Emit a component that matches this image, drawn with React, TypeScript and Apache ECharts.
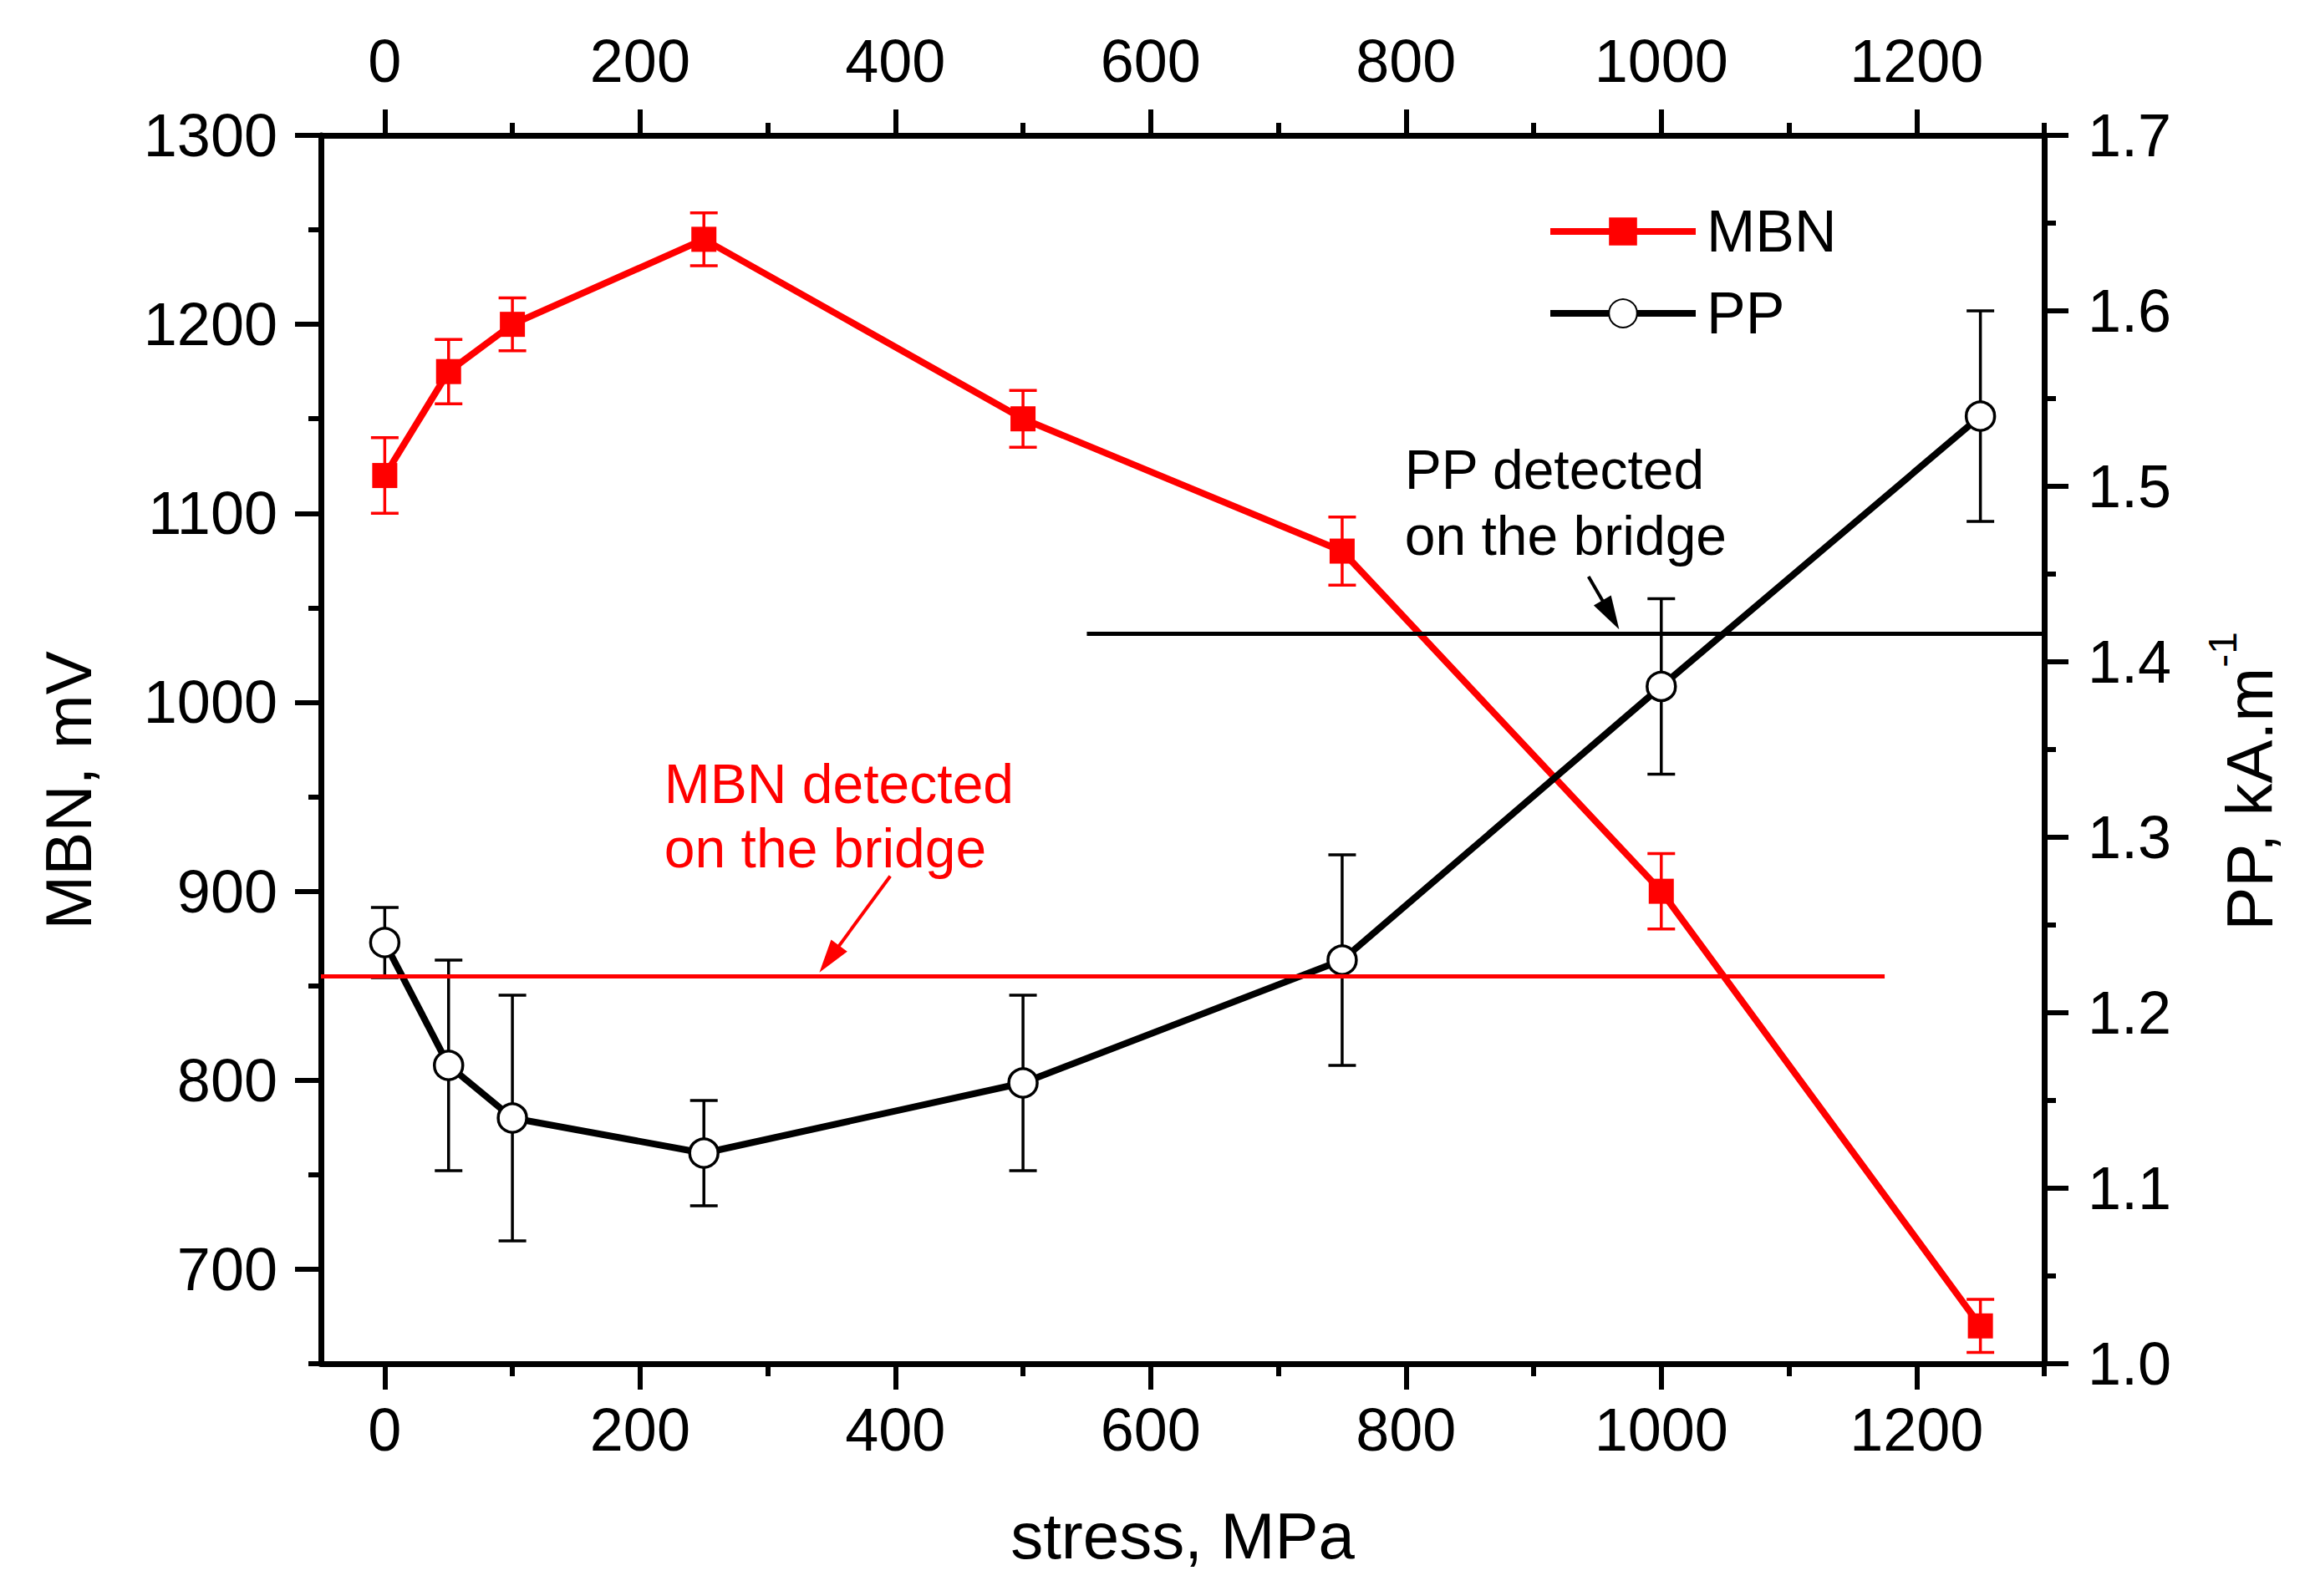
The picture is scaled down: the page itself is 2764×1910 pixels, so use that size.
import { useEffect, useRef } from 'react';
import * as echarts from 'echarts';

// ---------- data ----------
const stress = [0, 50, 100, 250, 500, 750, 1000, 1250];
const mbn = [1120, 1175, 1200, 1245, 1150, 1080, 900, 670];
const mbnErr = [20, 17, 14, 14, 15, 18, 20, 14];
const pp = [1.24, 1.17, 1.14, 1.12, 1.16, 1.23, 1.386, 1.54];
const ppErr = [0.02, 0.06, 0.07, 0.03, 0.05, 0.06, 0.05, 0.06];

// detection thresholds (stress range, level)
const mbnDetectX = [-50, 1175];
const mbnDetectLevel = 855;
const ppDetectX = [550, 1300];
const ppDetectLevel = 1.416;

// axis ticks
const xMajorTicks = [0, 200, 400, 600, 800, 1000, 1200];
const xMinorTicks = [100, 300, 500, 700, 900, 1100, 1300];
const leftMajorTicks = [700, 800, 900, 1000, 1100, 1200, 1300];
const leftMinorTicks = [650, 750, 850, 950, 1050, 1150, 1250];
const rightMajorTicks = [1.0, 1.1, 1.2, 1.3, 1.4, 1.5, 1.6, 1.7];
const rightMinorTicks = [1.05, 1.15, 1.25, 1.35, 1.45, 1.55, 1.65];

// annotations (data coordinates, left axis)
const annotationLabels = ['MBN detected', 'on the bridge', 'PP detected', 'on the bridge'];
const annotationX = [219, 219, 799, 799];
const annotationY = [957, 923, 1123, 1088];
const annotationColors = ['#ff0000', '#ff0000', '#000000', '#000000'];
// arrows: [fromX, fromY, toX, toY]
const mbnArrow = [[396, 908, 340.5, 857]];
const ppArrow = [[943, 1.4486, 967, 1.4185]];

const FONT = '"Liberation Sans", Arial, Helvetica, sans-serif';
const RED = '#ff0000';
const BLACK = '#000000';

function App() {
  const ref = useRef<HTMLDivElement>(null);

  useEffect(() => {
    if (!ref.current) return;
    const chart = echarts.init(ref.current, null, { renderer: 'svg' });

    const majorLen = 31;
    const minorLen = 15;
    const axisW = 7;
    const tickW = 6;

    const xAxisBase = (position: 'top' | 'bottom', ticks: number[], len: number, labels: boolean, lineShow: boolean, margin: number) => ({
      type: 'value',
      position,
      min: -50,
      max: 1300,
      axisLine: { show: lineShow, onZero: false, lineStyle: { color: BLACK, width: axisW } },
      axisTick: { show: true, inside: false, length: len, customValues: ticks, lineStyle: { color: BLACK, width: tickW } },
      axisLabel: {
        show: labels,
        customValues: ticks,
        margin,
        color: BLACK,
        fontSize: 72,
        fontFamily: FONT,
        formatter: (v: number) => String(Math.round(v)),
      },
      splitLine: { show: false },
      minorTick: { show: false },
    });

    const yAxisBase = (
      position: 'left' | 'right',
      min: number,
      max: number,
      ticks: number[],
      len: number,
      labels: boolean,
      lineShow: boolean,
      fmt: (v: number) => string,
    ) => ({
      type: 'value',
      position,
      min,
      max,
      axisLine: { show: lineShow, onZero: false, lineStyle: { color: BLACK, width: axisW } },
      axisTick: { show: true, inside: false, length: len, customValues: ticks, lineStyle: { color: BLACK, width: tickW } },
      axisLabel: {
        show: labels,
        customValues: ticks,
        margin: 52,
        color: BLACK,
        fontSize: 72,
        fontFamily: FONT,
        formatter: fmt,
      },
      splitLine: { show: false },
      minorTick: { show: false },
    });

    const intFmt = (v: number) => String(Math.round(v));
    const oneFmt = (v: number) => v.toFixed(1);

    const bottomMajor: any = xAxisBase('bottom', xMajorTicks, majorLen, true, true, 43);
    bottomMajor.name = 'stress, MPa';
    bottomMajor.nameLocation = 'middle';
    bottomMajor.nameGap = 167;
    bottomMajor.nameTextStyle = { color: BLACK, fontSize: 78, fontFamily: FONT };

    const errorBar = (color: string, width: number) => (params: any, api: any) => {
      const x = api.value(0);
      const lo = api.value(1);
      const hi = api.value(2);
      const top = api.coord([x, hi]);
      const bot = api.coord([x, lo]);
      const hw = 16.5;
      const style = { stroke: color, lineWidth: width };
      return {
        type: 'group',
        children: [
          { type: 'line', shape: { x1: top[0], y1: top[1], x2: bot[0], y2: bot[1] }, style },
          { type: 'line', shape: { x1: top[0] - hw, y1: top[1], x2: top[0] + hw, y2: top[1] }, style },
          { type: 'line', shape: { x1: bot[0] - hw, y1: bot[1], x2: bot[0] + hw, y2: bot[1] }, style },
        ],
      };
    };

    const arrow = (color: string) => (params: any, api: any) => {
      const p1 = api.coord([api.value(0), api.value(1)]);
      const p2 = api.coord([api.value(2), api.value(3)]);
      const dx = p2[0] - p1[0];
      const dy = p2[1] - p1[1];
      const len = Math.hypot(dx, dy) || 1;
      const ux = dx / len;
      const uy = dy / len;
      const hl = 40;
      const hw = 12;
      const bx = p2[0] - ux * hl;
      const by = p2[1] - uy * hl;
      return {
        type: 'group',
        children: [
          { type: 'line', shape: { x1: p1[0], y1: p1[1], x2: bx + ux * 4, y2: by + uy * 4 }, style: { stroke: color, lineWidth: 4 } },
          {
            type: 'polygon',
            shape: { points: [[p2[0], p2[1]], [bx - uy * hw, by + ux * hw], [bx + uy * hw, by - ux * hw]] },
            style: { fill: color },
          },
        ],
      };
    };

    const option: any = {
      animation: false,
      backgroundColor: '#ffffff',
      grid: { left: 384, right: 318, top: 162, bottom: 278, containLabel: false },
      legend: {
        data: ['MBN', 'PP'],
        orient: 'vertical',
        left: 1846,
        top: 237,
        itemWidth: 174,
        itemHeight: 42,
        itemGap: 28,
        lineStyle: { width: 8 },
        textStyle: { color: BLACK, fontSize: 70, fontFamily: FONT, padding: [0, 0, 0, 8] },
      },
      xAxis: [
        bottomMajor,
        xAxisBase('bottom', xMinorTicks, minorLen, false, false, 43),
        xAxisBase('top', xMajorTicks, majorLen, true, true, 53),
        xAxisBase('top', xMinorTicks, minorLen, false, false, 53),
      ],
      yAxis: [
        yAxisBase('left', 650, 1300, leftMajorTicks, majorLen, true, true, intFmt),
        yAxisBase('left', 650, 1300, leftMinorTicks, minorLen, false, false, intFmt),
        yAxisBase('right', 1.0, 1.7, rightMajorTicks, 29, true, true, oneFmt),
        yAxisBase('right', 1.0, 1.7, rightMinorTicks, 14, false, false, oneFmt),
      ],
      graphic: [
        {
          type: 'text',
          x: 82,
          y: 946,
          rotation: Math.PI / 2,
          style: { text: 'MBN, mV', fill: BLACK, fontSize: 78, fontFamily: FONT, align: 'center', verticalAlign: 'middle' },
        },
        {
          type: 'text',
          x: 2683,
          y: 935,
          rotation: Math.PI / 2,
          style: {
            text: '{a|PP, kA.m}{b|-1}',
            fill: BLACK,
            align: 'center',
            verticalAlign: 'middle',
            rich: {
              a: { fontSize: 78, fontFamily: FONT, fill: BLACK, verticalAlign: 'bottom', padding: [17, 0, 0, 0] },
              b: { fontSize: 48, fontFamily: FONT, fill: BLACK, verticalAlign: 'top' },
            },
          },
        },
      ],
      series: [
        {
          type: 'custom',
          name: 'MBN error',
          xAxisIndex: 0,
          yAxisIndex: 0,
          z: 2,
          renderItem: errorBar(RED, 3.5),
          data: stress.map((x, i) => [x, mbn[i] - mbnErr[i], mbn[i] + mbnErr[i]]),
        },
        {
          type: 'custom',
          name: 'PP error',
          xAxisIndex: 0,
          yAxisIndex: 2,
          z: 2,
          renderItem: errorBar(BLACK, 3.5),
          data: stress.map((x, i) => [x, pp[i] - ppErr[i], pp[i] + ppErr[i]]),
        },
        {
          type: 'line',
          name: 'MBN',
          xAxisIndex: 0,
          yAxisIndex: 0,
          z: 3,
          data: stress.map((x, i) => [x, mbn[i]]),
          symbol: 'rect',
          symbolSize: 30,
          itemStyle: { color: RED },
          lineStyle: { color: RED, width: 8 },
        },
        {
          type: 'line',
          name: 'PP',
          xAxisIndex: 0,
          yAxisIndex: 2,
          z: 3,
          data: stress.map((x, i) => [x, pp[i]]),
          symbol: 'circle',
          symbolSize: 34,
          itemStyle: { color: '#ffffff', borderColor: BLACK, borderWidth: 3.5 },
          lineStyle: { color: BLACK, width: 8 },
        },
        {
          type: 'line',
          name: 'MBN detected',
          xAxisIndex: 0,
          yAxisIndex: 0,
          z: 4,
          symbol: 'none',
          data: mbnDetectX.map((x) => [x, mbnDetectLevel]),
          lineStyle: { color: RED, width: 5 },
          itemStyle: { color: RED },
        },
        {
          type: 'line',
          name: 'PP detected',
          xAxisIndex: 0,
          yAxisIndex: 2,
          z: 4,
          symbol: 'none',
          data: ppDetectX.map((x) => [x, ppDetectLevel]),
          lineStyle: { color: BLACK, width: 5 },
          itemStyle: { color: BLACK },
        },
        {
          type: 'custom',
          name: 'MBN arrow',
          xAxisIndex: 0,
          yAxisIndex: 0,
          z: 5,
          renderItem: arrow(RED),
          data: mbnArrow,
        },
        {
          type: 'custom',
          name: 'PP arrow',
          xAxisIndex: 0,
          yAxisIndex: 2,
          z: 5,
          renderItem: arrow(BLACK),
          data: ppArrow,
        },
        {
          type: 'custom',
          name: 'annotations',
          xAxisIndex: 0,
          yAxisIndex: 0,
          z: 5,
          renderItem: (params: any, api: any) => {
            const p = api.coord([api.value(0), api.value(1)]);
            const i = params.dataIndex;
            return {
              type: 'text',
              x: p[0],
              y: p[1],
              style: {
                text: annotationLabels[i],
                fill: annotationColors[i],
                fontSize: 66,
                fontFamily: FONT,
                align: 'left',
                verticalAlign: 'middle',
              },
            };
          },
          data: annotationX.map((x, i) => [x, annotationY[i]]),
        },
      ],
    };

    chart.setOption(option);
    return () => chart.dispose();
  }, []);

  return (
    <div
      ref={ref}
      style={{ position: 'fixed', left: 0, top: 0, width: 2764, height: 1910, background: '#fff' }}
    />
  );
}

export default App;
